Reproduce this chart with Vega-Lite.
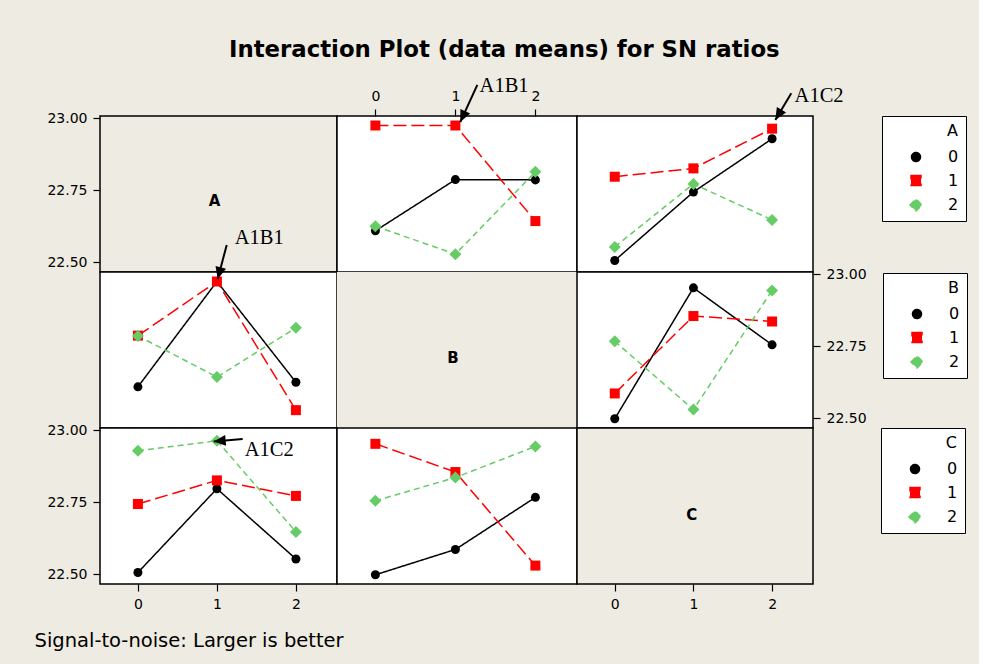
{
 "$schema": "https://vega.github.io/schema/vega-lite/v6.json",
 "background": "#EEEBE2",
 "padding": {"left": 33, "top": 38, "right": 10, "bottom": 14},
 "title": {"text": "Interaction Plot (data means) for SN ratios", "anchor": "start", "frame": "group", "dx": 129, "font": "DejaVu Sans", "fontSize": 22.8, "fontWeight": "bold", "color": "#000000", "offset": 14},
 "datasets": {
  "sn": [
   {"pair": "AB", "i": 0, "j": 0, "sn": 22.609},
   {"pair": "AB", "i": 0, "j": 1, "sn": 22.787},
   {"pair": "AB", "i": 0, "j": 2, "sn": 22.786},
   {"pair": "AB", "i": 1, "j": 0, "sn": 22.975},
   {"pair": "AB", "i": 1, "j": 1, "sn": 22.975},
   {"pair": "AB", "i": 1, "j": 2, "sn": 22.643},
   {"pair": "AB", "i": 2, "j": 0, "sn": 22.625},
   {"pair": "AB", "i": 2, "j": 1, "sn": 22.528},
   {"pair": "AB", "i": 2, "j": 2, "sn": 22.814},
   {"pair": "AC", "i": 0, "j": 0, "sn": 22.506},
   {"pair": "AC", "i": 0, "j": 1, "sn": 22.744},
   {"pair": "AC", "i": 0, "j": 2, "sn": 22.929},
   {"pair": "AC", "i": 1, "j": 0, "sn": 22.797},
   {"pair": "AC", "i": 1, "j": 1, "sn": 22.826},
   {"pair": "AC", "i": 1, "j": 2, "sn": 22.964},
   {"pair": "AC", "i": 2, "j": 0, "sn": 22.553},
   {"pair": "AC", "i": 2, "j": 1, "sn": 22.772},
   {"pair": "AC", "i": 2, "j": 2, "sn": 22.647},
   {"pair": "BC", "i": 0, "j": 0, "sn": 22.498},
   {"pair": "BC", "i": 0, "j": 1, "sn": 22.953},
   {"pair": "BC", "i": 0, "j": 2, "sn": 22.755},
   {"pair": "BC", "i": 1, "j": 0, "sn": 22.586},
   {"pair": "BC", "i": 1, "j": 1, "sn": 22.855},
   {"pair": "BC", "i": 1, "j": 2, "sn": 22.836},
   {"pair": "BC", "i": 2, "j": 0, "sn": 22.767},
   {"pair": "BC", "i": 2, "j": 1, "sn": 22.530},
   {"pair": "BC", "i": 2, "j": 2, "sn": 22.944}
  ]
 },
 "columns": 3,
 "spacing": 0,
 "bounds": "flush",
 "resolve": {"scale": {"color": "independent", "strokeDash": "independent", "shape": "independent", "size": "independent"}, "legend": {"color": "independent", "strokeDash": "independent", "shape": "independent", "size": "independent"}},
 "concat": [
    {
     "width": 237, "height": 156,
     "view": {"fill": "#EEEBE2"},
     "data": {"values": [{"name": "A"}]},
     "mark": {"type": "text", "font": "DejaVu Sans", "fontWeight": "bold", "fontSize": 15, "color": "#000000", "dx": -4},
     "encoding": {
      "text": {"field": "name"},
      "y": {"datum": 22.714, "type": "quantitative", "scale": {"domain": [22.466, 23.008], "nice": false, "zero": false}, "axis": {"orient": "left", "values": [22.5, 22.75, 23], "format": ".2f", "title": null}}
     }
    },
    {
     "width": 240, "height": 156,
     "layer": [
      {"data": {"name": "sn"}, "transform": [{"filter": "datum.pair === 'AB'"}],
       "mark": {"type": "line", "strokeWidth": 1.5},
       "encoding": {
        "x": {"field": "j", "type": "quantitative", "scale": {"domain": [-0.48, 2.52], "nice": false, "zero": false}, "axis": {"orient": "top", "values": [0, 1, 2], "format": "d", "title": null}},
        "y": {"field": "sn", "type": "quantitative", "scale": {"domain": [22.466, 23.008], "nice": false, "zero": false}, "axis": null},
        "color": {"field": "i", "type": "nominal", "scale": {"domain": [0, 1, 2], "range": ["#000000", "#FF0000", "#66CC66"]}, "legend": null},
        "strokeDash": {"field": "i", "type": "nominal", "scale": {"domain": [0, 1, 2], "range": [[1, 0], [13, 5], [6, 4]]}, "legend": null}
       }},
      {"data": {"name": "sn"}, "transform": [{"filter": "datum.pair === 'AB'"}],
       "mark": {"type": "point", "filled": true, "opacity": 1},
       "encoding": {
        "x": {"field": "j", "type": "quantitative", "axis": {"orient": "top", "values": [0, 1, 2], "format": "d", "title": null}},
        "y": {"field": "sn", "type": "quantitative", "axis": null},
        "color": {"field": "i", "type": "nominal", "scale": {"domain": [0, 1, 2], "range": ["#000000", "#FF0000", "#66CC66"]}, "legend": null},
        "shape": {"field": "i", "type": "nominal", "scale": {"domain": [0, 1, 2], "range": ["circle", "square", "diamond"]}, "legend": null},
        "size": {"field": "i", "type": "ordinal", "scale": {"type": "ordinal", "domain": [0, 1, 2], "range": [81, 100, 144]}, "legend": null}
       }},
      {"data": {"values": [{"ax": 1.274, "ay": 23.116, "bx": 1.061, "by": 22.987, "tx": 1.3025, "ty": 23.09, "label": "A1B1"}]},
       "mark": {"type": "rule", "strokeWidth": 2, "color": "#000000"},
       "encoding": {"x": {"field": "ax", "type": "quantitative", "axis": {"orient": "top", "values": [0, 1, 2], "format": "d", "title": null}}, "y": {"field": "ay", "type": "quantitative", "axis": null}, "x2": {"field": "bx"}, "y2": {"field": "by"}}},
      {"data": {"values": [{"ax": 1.274, "ay": 23.116, "bx": 1.061, "by": 22.987, "tx": 1.3025, "ty": 23.09, "label": "A1B1"}]},
       "mark": {"type": "point", "shape": "M0,0L-0.45,-1L0.45,-1Z", "filled": true, "color": "#000000", "opacity": 1, "size": 576, "angle": 24.7},
       "encoding": {"x": {"field": "bx", "type": "quantitative", "axis": {"orient": "top", "values": [0, 1, 2], "format": "d", "title": null}}, "y": {"field": "by", "type": "quantitative", "axis": null}}},
      {"data": {"values": [{"ax": 1.274, "ay": 23.116, "bx": 1.061, "by": 22.987, "tx": 1.3025, "ty": 23.09, "label": "A1B1"}]},
       "mark": {"type": "text", "font": "Liberation Serif", "fontSize": 20.5, "align": "left", "baseline": "alphabetic", "color": "#000000"},
       "encoding": {"x": {"field": "tx", "type": "quantitative", "axis": {"orient": "top", "values": [0, 1, 2], "format": "d", "title": null}}, "y": {"field": "ty", "type": "quantitative", "axis": null}, "text": {"field": "label"}}}
     ]
    },
    {
     "width": 236, "height": 156,
     "layer": [
      {"data": {"name": "sn"}, "transform": [{"filter": "datum.pair === 'AC'"}],
       "mark": {"type": "line", "strokeWidth": 1.5},
       "encoding": {
        "x": {"field": "j", "type": "quantitative", "scale": {"domain": [-0.48, 2.52], "nice": false, "zero": false}, "axis": null},
        "y": {"field": "sn", "type": "quantitative", "scale": {"domain": [22.466, 23.008], "nice": false, "zero": false}, "axis": null},
        "color": {"field": "i", "type": "nominal", "title": "A", "scale": {"domain": [0, 1, 2], "range": ["#000000", "#FF0000", "#66CC66"]}, "legend": {"title": "A", "orient": "none", "legendX": 305, "legendY": 0, "labelExpr": "datum.label + ' '"}},
        "strokeDash": {"field": "i", "type": "nominal", "title": "A", "scale": {"domain": [0, 1, 2], "range": [[1, 0], [13, 5], [6, 4]]}, "legend": null}
       }},
      {"data": {"name": "sn"}, "transform": [{"filter": "datum.pair === 'AC'"}],
       "mark": {"type": "point", "filled": true, "opacity": 1},
       "encoding": {
        "x": {"field": "j", "type": "quantitative", "axis": null},
        "y": {"field": "sn", "type": "quantitative", "axis": null},
        "color": {"field": "i", "type": "nominal", "title": "A", "scale": {"domain": [0, 1, 2], "range": ["#000000", "#FF0000", "#66CC66"]}, "legend": {"title": "A", "orient": "none", "legendX": 305, "legendY": 0, "labelExpr": "datum.label + ' '"}},
        "shape": {"field": "i", "type": "nominal", "title": "A", "scale": {"domain": [0, 1, 2], "range": ["circle", "square", "diamond"]}, "legend": null},
        "size": {"field": "i", "type": "ordinal", "scale": {"type": "ordinal", "domain": [0, 1, 2], "range": [81, 100, 144]}, "legend": null}
       }},
      {"data": {"values": [{"ax": 2.244, "ay": 23.087, "bx": 2.041, "by": 22.994, "tx": 2.286, "ty": 23.058, "label": "A1C2"}]},
       "mark": {"type": "rule", "strokeWidth": 2, "color": "#000000"},
       "encoding": {"x": {"field": "ax", "type": "quantitative", "axis": null}, "y": {"field": "ay", "type": "quantitative", "axis": null}, "x2": {"field": "bx"}, "y2": {"field": "by"}}},
      {"data": {"values": [{"ax": 2.244, "ay": 23.087, "bx": 2.041, "by": 22.994, "tx": 2.286, "ty": 23.058, "label": "A1C2"}]},
       "mark": {"type": "point", "shape": "M0,0L-0.45,-1L0.45,-1Z", "filled": true, "color": "#000000", "opacity": 1, "size": 576, "angle": 31},
       "encoding": {"x": {"field": "bx", "type": "quantitative", "axis": null}, "y": {"field": "by", "type": "quantitative", "axis": null}}},
      {"data": {"values": [{"ax": 2.244, "ay": 23.087, "bx": 2.041, "by": 22.994, "tx": 2.286, "ty": 23.058, "label": "A1C2"}]},
       "mark": {"type": "text", "font": "Liberation Serif", "fontSize": 20.5, "align": "left", "baseline": "alphabetic", "color": "#000000"},
       "encoding": {"x": {"field": "tx", "type": "quantitative", "axis": null}, "y": {"field": "ty", "type": "quantitative", "axis": null}, "text": {"field": "label"}}}
     ]
    },
    {
     "width": 237, "height": 156,
     "layer": [
      {"data": {"name": "sn"}, "transform": [{"filter": "datum.pair === 'AB'"}],
       "mark": {"type": "line", "strokeWidth": 1.5},
       "encoding": {
        "x": {"field": "i", "type": "quantitative", "scale": {"domain": [-0.48, 2.52], "nice": false, "zero": false}, "axis": null},
        "y": {"field": "sn", "type": "quantitative", "scale": {"domain": [22.466, 23.008], "nice": false, "zero": false}, "axis": null},
        "color": {"field": "j", "type": "nominal", "scale": {"domain": [0, 1, 2], "range": ["#000000", "#FF0000", "#66CC66"]}, "legend": null},
        "strokeDash": {"field": "j", "type": "nominal", "scale": {"domain": [0, 1, 2], "range": [[1, 0], [13, 5], [6, 4]]}, "legend": null}
       }},
      {"data": {"name": "sn"}, "transform": [{"filter": "datum.pair === 'AB'"}],
       "mark": {"type": "point", "filled": true, "opacity": 1},
       "encoding": {
        "x": {"field": "i", "type": "quantitative", "axis": null},
        "y": {"field": "sn", "type": "quantitative", "axis": null},
        "color": {"field": "j", "type": "nominal", "scale": {"domain": [0, 1, 2], "range": ["#000000", "#FF0000", "#66CC66"]}, "legend": null},
        "shape": {"field": "j", "type": "nominal", "scale": {"domain": [0, 1, 2], "range": ["circle", "square", "diamond"]}, "legend": null},
        "size": {"field": "j", "type": "ordinal", "scale": {"type": "ordinal", "domain": [0, 1, 2], "range": [81, 100, 144]}, "legend": null}
       }},
      {"data": {"values": [{"ax": 1.124, "ay": 23.102, "bx": 1.01, "by": 22.984, "tx": 1.225, "ty": 23.105, "label": "A1B1"}]},
       "mark": {"type": "rule", "strokeWidth": 2, "color": "#000000"},
       "encoding": {"x": {"field": "ax", "type": "quantitative", "axis": null}, "y": {"field": "ay", "type": "quantitative", "axis": null}, "x2": {"field": "bx"}, "y2": {"field": "by"}}},
      {"data": {"values": [{"ax": 1.124, "ay": 23.102, "bx": 1.01, "by": 22.984, "tx": 1.225, "ty": 23.105, "label": "A1B1"}]},
       "mark": {"type": "point", "shape": "M0,0L-0.45,-1L0.45,-1Z", "filled": true, "color": "#000000", "opacity": 1, "size": 576, "angle": 14.8},
       "encoding": {"x": {"field": "bx", "type": "quantitative", "axis": null}, "y": {"field": "by", "type": "quantitative", "axis": null}}},
      {"data": {"values": [{"ax": 1.124, "ay": 23.102, "bx": 1.01, "by": 22.984, "tx": 1.225, "ty": 23.105, "label": "A1B1"}]},
       "mark": {"type": "text", "font": "Liberation Serif", "fontSize": 20.5, "align": "left", "baseline": "alphabetic", "color": "#000000"},
       "encoding": {"x": {"field": "tx", "type": "quantitative", "axis": null}, "y": {"field": "ty", "type": "quantitative", "axis": null}, "text": {"field": "label"}}}
     ]
    },
    {
     "width": 240, "height": 156,
     "view": {"fill": "#EEEBE2"},
     "data": {"values": [{"name": "B"}]},
     "mark": {"type": "text", "font": "DejaVu Sans", "fontWeight": "bold", "fontSize": 15, "color": "#000000", "dx": -4, "dy": 8},
     "encoding": {"text": {"field": "name"}}
    },
    {
     "width": 236, "height": 156,
     "layer": [
      {"data": {"name": "sn"}, "transform": [{"filter": "datum.pair === 'BC'"}],
       "mark": {"type": "line", "strokeWidth": 1.5},
       "encoding": {
        "x": {"field": "j", "type": "quantitative", "scale": {"domain": [-0.48, 2.52], "nice": false, "zero": false}, "axis": null},
        "y": {"field": "sn", "type": "quantitative", "scale": {"domain": [22.466, 23.008], "nice": false, "zero": false}, "axis": {"orient": "right", "values": [22.5, 22.75, 23], "format": ".2f", "title": null}},
        "color": {"field": "i", "type": "nominal", "title": "B", "scale": {"domain": [0, 1, 2], "range": ["#000000", "#FF0000", "#66CC66"]}, "legend": {"title": "B", "orient": "none", "legendX": 306, "legendY": 1, "labelExpr": "datum.label + ' '"}},
        "strokeDash": {"field": "i", "type": "nominal", "title": "B", "scale": {"domain": [0, 1, 2], "range": [[1, 0], [13, 5], [6, 4]]}, "legend": null}
       }},
      {"data": {"name": "sn"}, "transform": [{"filter": "datum.pair === 'BC'"}],
       "mark": {"type": "point", "filled": true, "opacity": 1},
       "encoding": {
        "x": {"field": "j", "type": "quantitative", "axis": null},
        "y": {"field": "sn", "type": "quantitative", "axis": {"orient": "right", "values": [22.5, 22.75, 23], "format": ".2f", "title": null}},
        "color": {"field": "i", "type": "nominal", "title": "B", "scale": {"domain": [0, 1, 2], "range": ["#000000", "#FF0000", "#66CC66"]}, "legend": {"title": "B", "orient": "none", "legendX": 306, "legendY": 1, "labelExpr": "datum.label + ' '"}},
        "shape": {"field": "i", "type": "nominal", "title": "B", "scale": {"domain": [0, 1, 2], "range": ["circle", "square", "diamond"]}, "legend": null},
        "size": {"field": "i", "type": "ordinal", "scale": {"type": "ordinal", "domain": [0, 1, 2], "range": [81, 100, 144]}, "legend": null}
       }}
     ]
    },
    {
     "width": 237, "height": 156,
     "layer": [
      {"data": {"name": "sn"}, "transform": [{"filter": "datum.pair === 'AC'"}],
       "mark": {"type": "line", "strokeWidth": 1.5},
       "encoding": {
        "x": {"field": "i", "type": "quantitative", "scale": {"domain": [-0.48, 2.52], "nice": false, "zero": false}, "axis": {"orient": "bottom", "values": [0, 1, 2], "format": "d", "title": "Signal-to-noise: Larger is better", "titleFont": "DejaVu Sans", "titleFontSize": 19.5, "titleFontWeight": "normal", "titleColor": "#000000", "titleAlign": "left", "titleBaseline": "alphabetic", "titleX": -66, "titleY": 62}},
        "y": {"field": "sn", "type": "quantitative", "scale": {"domain": [22.466, 23.008], "nice": false, "zero": false}, "axis": {"orient": "left", "values": [22.5, 22.75, 23], "format": ".2f", "title": null}},
        "color": {"field": "j", "type": "nominal", "scale": {"domain": [0, 1, 2], "range": ["#000000", "#FF0000", "#66CC66"]}, "legend": null},
        "strokeDash": {"field": "j", "type": "nominal", "scale": {"domain": [0, 1, 2], "range": [[1, 0], [13, 5], [6, 4]]}, "legend": null}
       }},
      {"data": {"name": "sn"}, "transform": [{"filter": "datum.pair === 'AC'"}],
       "mark": {"type": "point", "filled": true, "opacity": 1},
       "encoding": {
        "x": {"field": "i", "type": "quantitative", "axis": {"orient": "bottom", "values": [0, 1, 2], "format": "d", "title": "Signal-to-noise: Larger is better", "titleFont": "DejaVu Sans", "titleFontSize": 19.5, "titleFontWeight": "normal", "titleColor": "#000000", "titleAlign": "left", "titleBaseline": "alphabetic", "titleX": -66, "titleY": 62}},
        "y": {"field": "sn", "type": "quantitative", "axis": {"orient": "left", "values": [22.5, 22.75, 23], "format": ".2f", "title": null}},
        "color": {"field": "j", "type": "nominal", "scale": {"domain": [0, 1, 2], "range": ["#000000", "#FF0000", "#66CC66"]}, "legend": null},
        "shape": {"field": "j", "type": "nominal", "scale": {"domain": [0, 1, 2], "range": ["circle", "square", "diamond"]}, "legend": null},
        "size": {"field": "j", "type": "ordinal", "scale": {"type": "ordinal", "domain": [0, 1, 2], "range": [81, 100, 144]}, "legend": null}
       }},
      {"data": {"values": [{"ax": 1.326, "ay": 22.97, "bx": 0.959, "by": 22.961, "tx": 1.352, "ty": 22.911, "label": "A1C2"}]},
       "mark": {"type": "rule", "strokeWidth": 2, "color": "#000000"},
       "encoding": {"x": {"field": "ax", "type": "quantitative", "axis": {"orient": "bottom", "values": [0, 1, 2], "format": "d", "title": "Signal-to-noise: Larger is better", "titleFont": "DejaVu Sans", "titleFontSize": 19.5, "titleFontWeight": "normal", "titleColor": "#000000", "titleAlign": "left", "titleBaseline": "alphabetic", "titleX": -66, "titleY": 62}}, "y": {"field": "ay", "type": "quantitative", "axis": {"orient": "left", "values": [22.5, 22.75, 23], "format": ".2f", "title": null}}, "x2": {"field": "bx"}, "y2": {"field": "by"}}},
      {"data": {"values": [{"ax": 1.326, "ay": 22.97, "bx": 0.959, "by": 22.961, "tx": 1.352, "ty": 22.911, "label": "A1C2"}]},
       "mark": {"type": "point", "shape": "M0,0L-0.45,-1L0.45,-1Z", "filled": true, "color": "#000000", "opacity": 1, "size": 576, "angle": 85},
       "encoding": {"x": {"field": "bx", "type": "quantitative", "axis": {"orient": "bottom", "values": [0, 1, 2], "format": "d", "title": "Signal-to-noise: Larger is better", "titleFont": "DejaVu Sans", "titleFontSize": 19.5, "titleFontWeight": "normal", "titleColor": "#000000", "titleAlign": "left", "titleBaseline": "alphabetic", "titleX": -66, "titleY": 62}}, "y": {"field": "by", "type": "quantitative", "axis": {"orient": "left", "values": [22.5, 22.75, 23], "format": ".2f", "title": null}}}},
      {"data": {"values": [{"ax": 1.326, "ay": 22.97, "bx": 0.959, "by": 22.961, "tx": 1.352, "ty": 22.911, "label": "A1C2"}]},
       "mark": {"type": "text", "font": "Liberation Serif", "fontSize": 20.5, "align": "left", "baseline": "alphabetic", "color": "#000000"},
       "encoding": {"x": {"field": "tx", "type": "quantitative", "axis": {"orient": "bottom", "values": [0, 1, 2], "format": "d", "title": "Signal-to-noise: Larger is better", "titleFont": "DejaVu Sans", "titleFontSize": 19.5, "titleFontWeight": "normal", "titleColor": "#000000", "titleAlign": "left", "titleBaseline": "alphabetic", "titleX": -66, "titleY": 62}}, "y": {"field": "ty", "type": "quantitative", "axis": {"orient": "left", "values": [22.5, 22.75, 23], "format": ".2f", "title": null}}, "text": {"field": "label"}}}
     ]
    },
    {
     "width": 240, "height": 156,
     "layer": [
      {"data": {"name": "sn"}, "transform": [{"filter": "datum.pair === 'BC'"}],
       "mark": {"type": "line", "strokeWidth": 1.5},
       "encoding": {
        "x": {"field": "i", "type": "quantitative", "scale": {"domain": [-0.48, 2.52], "nice": false, "zero": false}, "axis": null},
        "y": {"field": "sn", "type": "quantitative", "scale": {"domain": [22.466, 23.008], "nice": false, "zero": false}, "axis": null},
        "color": {"field": "j", "type": "nominal", "title": "C", "scale": {"domain": [0, 1, 2], "range": ["#000000", "#FF0000", "#66CC66"]}, "legend": {"title": "C", "orient": "none", "legendX": 544, "legendY": 0, "labelExpr": "datum.label + ' '"}},
        "strokeDash": {"field": "j", "type": "nominal", "title": "C", "scale": {"domain": [0, 1, 2], "range": [[1, 0], [13, 5], [6, 4]]}, "legend": null}
       }},
      {"data": {"name": "sn"}, "transform": [{"filter": "datum.pair === 'BC'"}],
       "mark": {"type": "point", "filled": true, "opacity": 1},
       "encoding": {
        "x": {"field": "i", "type": "quantitative", "axis": null},
        "y": {"field": "sn", "type": "quantitative", "axis": null},
        "color": {"field": "j", "type": "nominal", "title": "C", "scale": {"domain": [0, 1, 2], "range": ["#000000", "#FF0000", "#66CC66"]}, "legend": {"title": "C", "orient": "none", "legendX": 544, "legendY": 0, "labelExpr": "datum.label + ' '"}},
        "shape": {"field": "j", "type": "nominal", "title": "C", "scale": {"domain": [0, 1, 2], "range": ["circle", "square", "diamond"]}, "legend": null},
        "size": {"field": "j", "type": "ordinal", "scale": {"type": "ordinal", "domain": [0, 1, 2], "range": [81, 100, 144]}, "legend": null}
       }}
     ]
    },
    {
     "width": 236, "height": 156,
     "view": {"fill": "#EEEBE2"},
     "data": {"values": [{"name": "C"}]},
     "mark": {"type": "text", "font": "DejaVu Sans", "fontWeight": "bold", "fontSize": 15, "color": "#000000", "dy": 9},
     "encoding": {
      "text": {"field": "name"},
      "x": {"datum": 0.98, "type": "quantitative", "scale": {"domain": [-0.48, 2.52], "nice": false, "zero": false}, "axis": {"orient": "bottom", "values": [0, 1, 2], "format": "d", "title": null}}
     }
    }
 ],
 "config": {
  "view": {"stroke": "#000000", "strokeWidth": 1.5, "fill": "#FFFFFF"},
  "axis": {"domain": false, "grid": false, "ticks": true, "tickColor": "#000000", "tickSize": 7, "tickWidth": 1.2, "labelFont": "DejaVu Sans", "labelFontSize": 14, "labelColor": "#000000", "labelPadding": 6},
  "legend": {"strokeColor": "#000000", "fillColor": "#FFFFFF", "padding": 7, "titleAnchor": "end", "titleFont": "DejaVu Sans", "titleFontSize": 16, "titleFontWeight": "normal", "titleColor": "#000000", "titlePadding": 10, "labelFont": "DejaVu Sans", "labelFontSize": 16, "labelColor": "#000000", "labelOffset": 24, "symbolSize": 400, "symbolOffset": 19, "rowPadding": 7.5, "symbolStrokeWidth": 1.5}
 }
}
